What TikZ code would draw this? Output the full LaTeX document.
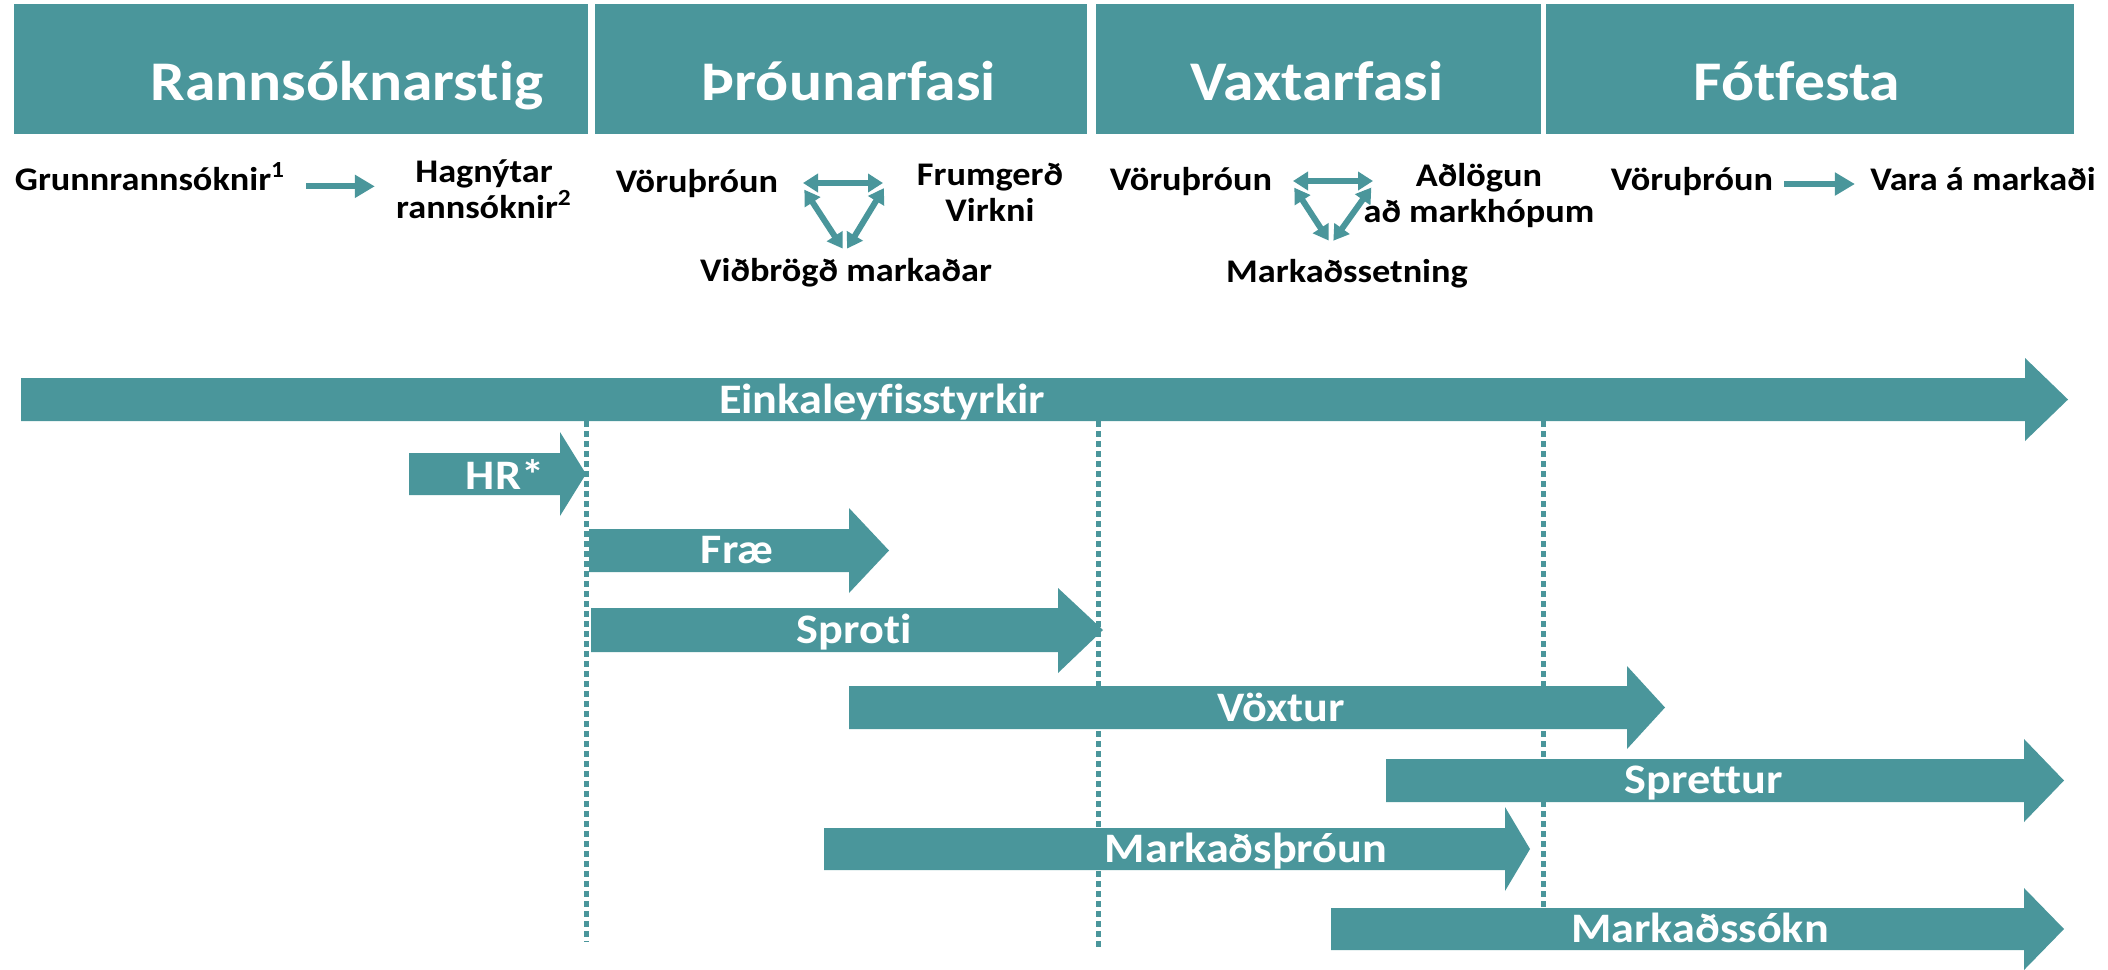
\documentclass[tikz,border=0pt]{standalone}
\usepackage{fontspec}
\setmainfont{Carlito}[FakeStretch=1.1,Ligatures=NoCommon]
\usetikzlibrary{arrows.meta}
\definecolor{tealbar}{RGB}{74,150,155}
\tikzset{
  headtext/.style={text=white, font=\fontsize{28}{32}\selectfont\bfseries, inner sep=0pt, anchor=base},
  steptext/.style={font=\fontsize{16.5}{18}\selectfont\bfseries, inner sep=0pt, anchor=base, align=center},
  bartext/.style={text=white, font=\fontsize{21}{24}\selectfont\bfseries, inner sep=0pt, anchor=base},
  subarrow/.style={draw=tealbar, line width=3pt, -{Triangle[length=10pt,width=11pt]}},
  dblarrow/.style={draw=tealbar, line width=3pt, {Triangle[length=7.5pt,width=9pt]}-{Triangle[length=7.5pt,width=9pt]}},
  phaseline/.style={draw=tealbar, line width=2.5pt, dash pattern=on 3pt off 2pt}
}
\begin{document}
\begin{tikzpicture}[x=0.5pt,y=0.5pt,yscale=-1,xscale=1]
\useasboundingbox (0,0) rectangle (2108,969);

%Shape: Rectangle [phase headers]
\fill[tealbar] (14,4) rectangle (588,134);
\fill[tealbar] (595,4) rectangle (1087,134);
\fill[tealbar] (1096,4) rectangle (1541,134);
\fill[tealbar] (1546,4) rectangle (2074,134);

% Text Node
\node[headtext] (rann) at (347,100) {Rannsóknarstig};
% Text Node
\node[headtext] (throun) at (849,100) {Þróunarfasi};
% Text Node
\node[headtext] (vaxtar) at (1317,100) {Vaxtarfasi};
% Text Node
\node[headtext] (fotfesta) at (1797,100) {Fótfesta};

% Text Node
\node[steptext] (grunn) at (150,190) {Grunnrannsóknir\textsuperscript{1}};
% Text Node
\node[steptext] (hagn) at (484,218) {Hagnýtar\\rannsóknir\textsuperscript{2}};
%Straight Lines [grunn -> hagn]
\draw[subarrow, shorten <=10.5pt, shorten >=10.5pt] ([yshift=5pt]grunn.east) -- ([yshift=5pt]grunn.east -| hagn.west);

% Text Node
\node[steptext] (voruA) at (697,192) {Vöruþróun};
% Text Node
\node[steptext] (frum) at (990,221) {Frumgerð\\Virkni};
% Text Node
\node[steptext] (vidbr) at (846,281) {Viðbrögð markaðar};
\coordinate (thA) at (800,183);
\coordinate (thB) at (887,183);
\coordinate (thC) at (845,252);
%Straight Lines [triangle]
\draw[dblarrow, shorten <=1.5pt, shorten >=2pt] (thA) -- (thB);
\draw[dblarrow, shorten <=4pt, shorten >=2pt] (thA) -- (thC);
\draw[dblarrow, shorten <=3pt, shorten >=2pt] (thB) -- (thC);

% Text Node
\node[steptext] (voruB) at (1191,190) {Vöruþróun};
% Text Node
\node[steptext] (adlog) at (1479,222) {Aðlögun\\að markhópum};
% Text Node
\node[steptext] (markset) at (1347,282) {Markaðssetning};
\coordinate (vxA) at (1290,181);
\coordinate (vxB) at (1376,181);
\coordinate (vxC) at (1331,244);
%Straight Lines [triangle]
\draw[dblarrow, shorten <=1.5pt, shorten >=1.5pt] (vxA) -- (vxB);
\draw[dblarrow, shorten <=4pt, shorten >=2pt] (vxA) -- (vxC);
\draw[dblarrow, shorten <=4pt, shorten >=2pt] (vxB) -- (vxC);

% Text Node
\node[steptext] (voruC) at (1692,190) {Vöruþróun};
% Text Node
\node[steptext] (vara) at (1983,190) {Vara á markaði};
%Straight Lines [voruC -> vara]
\draw[subarrow, shorten <=5.5pt, shorten >=7.5pt] ([yshift=1.5pt]voruC.east) -- ([yshift=1.5pt]voruC.east -| vara.west);

%Straight Lines [phase borders]
\draw[phaseline] (586,421) -- (586,942);
\draw[phaseline] (1098,421) -- (1098,950);
\draw[phaseline] (1543,421) -- (1543,950);

%Shape: Right Arrow
\fill[tealbar] (21,378) -- (2025,378) -- (2025,358) -- (2068,399.5) -- (2025,441) -- (2025,421) -- (21,421) -- cycle;
%Shape: Right Arrow
\fill[tealbar] (409,453) -- (560,453) -- (560,432) -- (586,474) -- (560,516) -- (560,495) -- (409,495) -- cycle;
%Shape: Right Arrow
\fill[tealbar] (589,529) -- (849,529) -- (849,508) -- (889,550.5) -- (849,593) -- (849,572) -- (589,572) -- cycle;
%Shape: Right Arrow
\fill[tealbar] (591,608) -- (1058,608) -- (1058,588) -- (1103,630) -- (1058,673) -- (1058,652) -- (591,652) -- cycle;
%Shape: Right Arrow
\fill[tealbar] (849,686) -- (1627,686) -- (1627,666) -- (1665,707.5) -- (1627,749) -- (1627,729) -- (849,729) -- cycle;
%Shape: Right Arrow
\fill[tealbar] (1386,759) -- (2024,759) -- (2024,739) -- (2064,780.5) -- (2024,822) -- (2024,802) -- (1386,802) -- cycle;
%Shape: Right Arrow
\fill[tealbar] (824,828) -- (1505,828) -- (1505,807) -- (1530,849) -- (1505,891) -- (1505,870) -- (824,870) -- cycle;
%Shape: Right Arrow
\fill[tealbar] (1331,908) -- (2024,908) -- (2024,888) -- (2064,929) -- (2024,970) -- (2024,950) -- (1331,950) -- cycle;

% Text Node
\node[bartext] (einka) at (882,413) {Einkaleyfisstyrkir};
% Text Node
\node[bartext] (hr) at (505,489) {HR*};
% Text Node
\node[bartext] (frae) at (737,563) {Fræ};
% Text Node
\node[bartext] (sproti) at (854,643) {Sproti};
% Text Node
\node[bartext] (voxtur) at (1281,721) {Vöxtur};
% Text Node
\node[bartext] (sprettur) at (1704,793) {Sprettur};
% Text Node
\node[bartext] (markthr) at (1246,862) {Markaðsþróun};
% Text Node
\node[bartext] (marksokn) at (1700,942) {Markaðssókn};

\end{tikzpicture}
\end{document}
